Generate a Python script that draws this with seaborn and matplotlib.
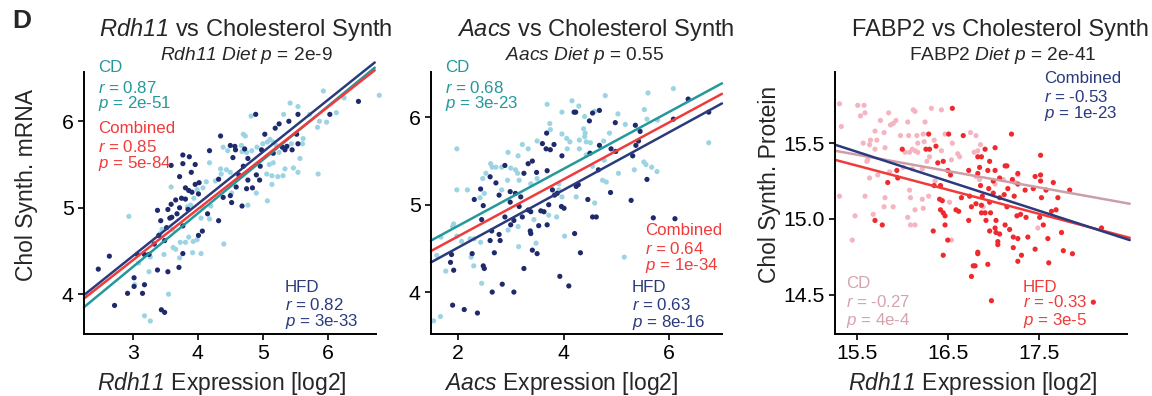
import numpy as np
import pandas as pd
import seaborn as sns
import matplotlib.pyplot as plt

# ---------------- data ----------------
# panel 1: Rdh11 mRNA vs chol synth mRNA, points as [x, y]
p1_cd = np.array([
    [4.39, 5.70], [4.46, 5.66], [4.18, 5.52], [4.35, 5.45], [4.44, 5.44], [4.50, 5.41],
    [4.36, 5.39], [4.27, 5.31], [4.13, 5.30], [3.99, 5.21], [3.59, 5.24], [4.08, 5.23],
    [3.94, 5.11], [3.89, 5.03], [3.84, 5.01], [4.07, 5.00], [4.20, 5.02], [4.05, 4.88],
    [4.18, 4.87], [2.94, 4.90], [3.45, 4.75], [3.61, 4.75], [3.42, 4.70], [3.86, 4.66],
    [3.93, 4.61], [3.99, 4.63], [3.73, 4.60], [3.81, 4.60], [3.62, 4.54], [3.48, 4.46],
    [3.66, 4.52], [3.92, 4.48], [4.05, 4.47], [4.40, 4.58], [3.27, 4.43], [3.09, 4.36],
    [3.25, 4.26], [3.03, 4.11], [3.55, 4.00], [3.18, 3.75], [3.27, 3.69], [3.72, 4.42],
    [5.93, 6.35], [6.79, 6.30], [6.25, 6.27], [5.42, 6.21], [5.54, 6.17], [5.32, 6.08],
    [4.82, 6.06], [4.70, 5.85], [4.73, 5.83], [4.67, 5.72], [4.68, 5.65], [4.75, 5.64],
    [4.83, 5.66], [4.91, 5.70], [5.00, 5.74], [5.07, 5.76], [5.11, 5.79], [5.16, 5.76],
    [5.21, 5.72], [5.44, 5.74], [5.62, 5.80], [5.61, 5.74], [5.72, 6.08], [5.87, 6.00],
    [5.84, 5.93], [5.98, 5.99], [6.13, 6.10], [5.57, 5.57], [5.25, 5.64], [5.16, 5.52],
    [5.10, 5.50], [5.06, 5.39], [5.14, 5.37], [5.23, 5.36], [5.31, 5.37], [5.34, 5.45],
    [5.47, 5.46], [5.54, 5.41], [5.85, 5.39], [5.14, 5.27], [4.90, 5.17], [4.77, 5.03],
    [5.07, 5.08], [4.52, 5.17],
])
p1_hfd = np.array([
    [4.35, 5.83], [4.50, 5.72], [4.18, 5.66], [3.77, 5.61], [3.87, 5.59], [3.96, 5.50],
    [3.77, 5.51], [3.59, 5.49], [3.90, 5.41], [3.72, 5.36], [4.02, 5.29], [3.96, 5.27],
    [3.81, 5.23], [3.86, 5.20], [3.91, 5.18], [4.01, 5.16], [3.75, 5.11], [3.81, 5.10],
    [3.66, 5.09], [3.59, 5.04], [3.54, 4.98], [3.72, 5.00], [3.85, 4.98], [3.68, 4.93],
    [3.60, 4.89], [3.57, 4.88], [3.43, 4.85], [3.38, 4.97], [3.52, 4.77], [3.40, 4.68],
    [3.33, 4.58], [3.25, 4.46], [3.18, 4.46], [3.07, 4.46], [3.49, 4.62], [3.77, 4.79],
    [4.01, 4.68], [4.07, 4.73], [4.15, 4.93], [4.32, 4.85], [4.39, 5.12], [4.32, 5.33],
    [4.50, 5.14], [2.64, 4.44], [2.47, 4.29], [3.38, 4.28], [3.54, 4.26], [3.71, 4.31],
    [3.77, 4.47], [3.02, 4.19], [3.18, 4.11], [3.02, 4.09], [2.92, 4.01], [3.15, 4.01],
    [3.44, 3.82], [3.49, 3.79], [2.72, 3.87],
    [6.47, 6.23], [6.03, 6.08], [5.54, 6.08], [5.40, 6.00], [5.25, 5.97], [5.19, 5.92],
    [4.89, 6.08], [5.03, 5.85], [5.52, 5.85], [5.54, 5.74], [5.30, 5.70], [5.34, 5.67],
    [5.37, 5.71], [5.45, 5.67], [4.98, 5.67], [4.57, 5.71], [4.58, 5.67], [4.72, 5.68],
    [4.54, 5.58], [4.77, 5.57], [4.70, 5.48], [4.96, 5.48], [4.63, 5.38], [4.95, 5.32],
    [4.77, 5.32], [4.90, 5.38], [5.16, 5.63], [4.59, 5.24], [4.75, 5.22], [4.84, 5.23],
    [4.52, 5.06], [4.68, 5.02],
])

# panel 2: Aacs mRNA vs chol synth mRNA
p2_cd = np.array([
    [3.69, 6.15], [3.97, 6.06], [4.16, 6.19], [3.74, 5.93], [3.75, 5.86], [3.50, 5.73],
    [3.97, 5.81], [4.12, 5.72], [4.07, 5.64], [4.06, 5.76], [3.22, 5.69], [3.33, 5.64],
    [3.14, 5.56], [2.95, 5.60], [1.98, 5.64], [2.62, 5.47], [2.65, 5.43], [2.72, 5.43],
    [2.83, 5.43], [3.00, 5.42], [3.09, 5.40], [3.13, 5.36], [2.53, 5.36], [2.47, 5.30],
    [2.18, 5.17], [1.98, 5.17], [2.50, 5.13], [2.42, 5.08], [2.83, 5.17], [2.94, 5.28],
    [3.16, 5.28], [3.38, 5.24], [3.50, 5.30], [3.91, 5.24], [3.97, 5.09], [3.72, 4.88],
    [3.87, 4.86], [3.91, 5.17], [3.44, 4.83], [3.14, 4.75], [2.95, 4.71], [1.90, 4.75],
    [1.92, 4.78], [1.68, 4.63], [1.98, 4.64], [2.23, 4.61], [2.31, 4.61], [2.43, 4.57],
    [2.07, 4.58], [1.60, 4.42], [1.77, 4.24], [2.25, 4.40], [2.30, 4.30], [3.48, 4.56],
    [4.02, 4.64], [2.45, 4.10], [1.67, 3.72], [1.54, 3.67], [3.15, 4.52],
    [4.79, 6.25], [5.60, 6.28], [6.08, 6.33], [4.29, 6.13], [4.59, 6.07], [5.03, 6.04],
    [5.17, 5.92], [5.53, 6.09], [5.58, 5.98], [5.78, 5.97], [4.40, 6.01], [4.38, 5.87],
    [4.41, 5.82], [4.30, 5.74], [4.43, 5.72], [4.51, 5.71], [4.76, 5.73], [4.87, 5.82],
    [4.30, 5.64], [4.43, 5.57], [4.77, 5.51], [4.55, 5.44], [5.04, 5.36], [5.34, 5.40],
    [5.52, 5.49], [5.56, 5.46], [5.77, 5.38], [5.67, 5.43], [4.74, 5.28], [4.81, 5.26],
    [4.24, 5.09], [4.59, 5.02], [6.75, 5.71], [5.15, 4.40], [4.40, 5.78],
])
p2_hfd = np.array([
    [4.20, 6.06], [3.68, 5.82], [3.60, 5.70], [3.82, 5.69], [3.75, 5.63], [3.67, 5.64],
    [3.97, 5.56], [2.89, 5.45], [3.33, 5.47], [3.41, 5.50], [3.25, 5.36], [3.49, 5.37],
    [3.69, 5.39], [2.61, 5.32], [2.72, 5.25], [2.43, 5.18], [2.31, 5.06], [2.48, 4.99],
    [2.78, 5.11], [2.99, 5.15], [3.09, 5.13], [3.19, 5.09], [2.99, 5.03], [3.16, 4.98],
    [3.33, 4.94], [3.38, 4.92], [3.57, 4.93], [3.63, 4.92], [3.72, 5.00], [3.79, 5.17],
    [3.83, 5.11], [3.88, 5.13], [3.96, 4.98], [4.01, 4.96], [2.89, 4.86], [3.06, 4.82],
    [3.22, 4.86], [3.69, 4.77], [3.53, 4.76], [2.45, 4.83], [2.64, 4.70], [2.61, 4.59],
    [2.80, 4.59], [2.78, 4.66], [3.37, 4.70], [3.38, 4.67], [3.00, 4.77], [2.69, 4.45],
    [2.27, 4.44], [1.88, 4.43], [1.86, 4.34], [1.92, 4.25], [3.41, 4.48], [3.50, 4.44],
    [2.48, 4.30], [2.50, 4.27], [3.25, 4.27], [2.84, 4.09], [2.65, 4.00], [3.06, 4.00],
    [1.90, 3.85], [2.12, 3.80], [2.37, 3.76], [3.93, 4.18], [4.10, 4.07],
    [6.36, 6.21], [6.75, 6.06], [6.08, 5.98], [5.36, 5.91], [5.45, 5.84], [5.42, 5.73],
    [5.37, 5.68], [5.31, 5.56], [4.98, 5.94], [4.90, 5.64], [4.99, 5.61], [4.68, 5.68],
    [4.50, 5.59], [4.49, 5.96], [4.55, 6.05], [4.68, 6.08], [4.23, 6.06], [4.66, 5.40],
    [4.28, 5.23], [4.24, 5.21], [5.58, 5.29], [4.89, 5.14], [5.28, 5.05], [4.46, 5.06],
    [4.55, 4.86], [4.62, 4.86], [5.70, 4.85], [6.11, 4.84], [4.32, 4.45], [4.21, 4.67],
])

# panel 3: Rdh11 expression vs chol synth protein
p3_cd = np.array([
    [15.31, 15.76], [15.51, 15.75], [15.58, 15.75], [15.59, 15.70], [15.54, 15.68],
    [15.33, 15.61], [15.85, 15.70], [15.76, 15.65], [15.93, 15.65], [15.90, 15.63],
    [15.87, 15.62], [16.06, 15.64], [16.12, 15.72], [16.14, 15.71], [16.32, 15.73],
    [16.43, 15.72], [16.25, 15.64], [15.70, 15.58], [15.80, 15.57], [15.65, 15.52],
    [15.72, 15.52], [15.57, 15.50], [15.64, 15.49], [15.98, 15.55], [16.07, 15.55],
    [16.16, 15.55], [16.23, 15.56], [16.24, 15.51], [16.17, 15.50], [16.11, 15.46],
    [16.14, 15.45], [16.17, 15.44], [16.08, 15.44], [16.03, 15.44], [15.81, 15.47],
    [15.70, 15.46], [15.62, 15.39], [15.61, 15.38], [15.73, 15.29], [15.64, 15.27],
    [15.86, 15.31], [16.01, 15.34], [16.11, 15.33], [16.22, 15.33], [16.27, 15.38],
    [16.30, 15.41], [16.43, 15.45], [16.55, 15.50], [16.61, 15.43], [16.54, 15.39],
    [16.63, 15.41], [16.75, 15.57], [16.79, 15.44], [16.47, 15.56], [16.35, 15.52],
    [15.31, 15.15], [15.59, 15.15], [15.81, 15.14], [15.90, 15.08], [15.80, 15.08],
    [16.08, 15.19], [16.09, 15.14], [16.22, 15.13], [16.29, 15.15], [16.23, 15.07],
    [16.14, 15.06], [16.06, 15.01], [16.09, 14.96], [16.14, 14.96], [15.68, 15.03],
    [15.48, 15.02], [15.45, 14.86], [16.54, 14.86], [16.52, 15.11], [16.36, 15.25],
    [16.81, 15.55], [16.86, 15.49], [16.83, 15.45], [16.81, 15.28], [16.85, 15.26],
    [17.02, 15.23], [17.11, 15.26], [17.24, 15.24], [17.27, 15.29], [16.89, 15.08],
    [17.49, 14.94],
])
p3_hfd = np.array([
    [16.55, 15.73], [16.29, 15.56], [16.51, 15.56], [16.67, 15.55], [16.37, 15.48],
    [16.26, 15.46], [16.30, 15.46], [16.00, 15.46], [16.45, 15.38], [16.39, 15.37],
    [16.50, 15.32], [16.53, 15.29], [15.94, 15.32], [15.95, 15.27], [15.84, 15.24],
    [16.35, 15.22], [16.42, 15.22], [16.41, 15.13], [16.44, 15.12], [16.42, 15.06],
    [16.45, 15.04], [16.47, 15.02], [16.74, 15.15], [16.76, 15.08], [16.81, 15.10],
    [16.59, 15.06], [16.62, 15.05], [16.65, 15.14], [16.73, 14.99], [16.73, 15.32],
    [16.83, 15.41], [16.47, 14.96], [16.34, 14.92], [16.50, 14.86], [16.45, 14.76],
    [16.83, 14.77], [16.78, 14.69], [16.76, 14.62], [15.70, 14.99], [15.78, 14.96],
    [17.20, 15.56], [17.52, 15.42], [17.02, 15.47], [16.91, 15.46], [16.87, 15.41],
    [16.96, 15.38], [17.13, 15.35], [17.15, 15.35], [17.02, 15.32], [16.94, 15.32],
    [16.85, 15.34], [16.83, 15.30], [17.07, 15.27], [17.27, 15.30], [17.46, 15.28],
    [17.52, 15.29], [17.44, 15.20], [17.52, 15.25], [17.66, 15.24], [17.84, 15.19],
    [17.71, 15.14], [17.58, 15.19], [17.53, 15.14], [17.35, 15.19], [17.27, 15.23],
    [17.21, 15.26], [17.23, 15.15], [17.16, 15.20], [17.12, 15.16], [17.00, 15.25],
    [16.95, 15.20], [16.86, 15.22], [16.88, 15.15], [17.00, 15.17], [17.07, 15.14],
    [16.96, 15.11], [16.87, 15.09], [16.91, 15.04], [16.87, 15.04], [16.97, 15.04],
    [17.15, 15.08], [17.26, 15.02], [17.30, 15.03], [17.36, 15.01], [17.51, 15.01],
    [17.55, 14.96], [17.69, 15.06], [17.64, 15.05], [16.92, 14.99], [17.03, 14.99],
    [17.02, 14.94], [16.96, 14.92], [17.13, 14.96], [17.18, 14.93], [17.03, 14.91],
    [17.07, 14.90], [17.22, 14.88], [17.38, 14.88], [17.27, 14.87], [17.60, 14.87],
    [17.75, 14.91], [18.19, 14.94], [17.05, 14.85], [17.05, 14.83], [17.22, 14.81],
    [17.46, 14.80], [17.77, 14.79], [17.87, 14.77], [17.31, 14.76], [17.27, 14.72],
    [16.83, 14.78], [16.94, 14.70], [17.61, 14.71], [16.98, 14.46], [18.10, 14.45],
    [16.80, 14.69],
])

# fitted lines (x ends, then y ends per group)
p1_line_x = [2.25, 6.72]
p1_cd_line = [3.85, 6.62]
p1_hfd_line = [3.99, 6.68]
p1_all_line = [3.95, 6.59]

p2_line_x = [1.49, 7.0]
p2_cd_line = [4.59, 6.39]
p2_hfd_line = [4.34, 6.16]
p2_all_line = [4.47, 6.27]

p3_line_x = [15.26, 18.5]
p3_cd_line = [15.45, 15.10]
p3_hfd_line = [15.39, 14.875]
p3_all_line = [15.49, 14.86]

# ---------------- style ----------------
sns.set_theme(style="ticks")
plt.rcParams["font.family"] = ["Liberation Sans", "DejaVu Sans"]
plt.rcParams["mathtext.fontset"] = "custom"
plt.rcParams["mathtext.rm"] = "Liberation Sans"
plt.rcParams["mathtext.it"] = "Liberation Sans:italic"
# \mathsf is used for fully italic words (digits included)
plt.rcParams["mathtext.sf"] = "Liberation Sans:italic"
plt.rcParams["axes.unicode_minus"] = False

light_blue = "#9dd4e4"
navy_pt = "#1f2a6c"
teal = "#24989b"
navy = "#2b3a7d"
red = "#f03b3b"
pink_pt = "#f6b4c0"
red_pt = "#ee2a2e"
mauve = "#cc9ea8"
mauve_txt = "#d5a3ab"

TITLE, SUB, ANN, LAB, TICK = 17, 13.8, 12.2, 16.5, 15.3

fig = plt.figure(figsize=(11.52, 3.96), dpi=100)
ax1 = fig.add_axes([0.0729, 0.1566, 0.2535, 0.6616])
ax2 = fig.add_axes([0.3741, 0.1566, 0.2526, 0.6616])
ax3 = fig.add_axes([0.7248, 0.1566, 0.2535, 0.6616])


def scatter(ax, cd, hfd, c_cd, c_hfd):
    df = pd.DataFrame({
        "x": np.r_[cd[:, 0], hfd[:, 0]],
        "y": np.r_[cd[:, 1], hfd[:, 1]],
        "diet": ["CD"] * len(cd) + ["HFD"] * len(hfd),
    })
    sns.scatterplot(data=df, x="x", y="y", hue="diet", palette={"CD": c_cd, "HFD": c_hfd},
                    s=14, linewidth=0, legend=False, ax=ax, clip_on=False)


def style(ax, xlim, ylim, xticks, yticks, xlabel, ylabel, ylab_x=-0.158):
    ax.set_xlim(xlim)
    ax.set_ylim(ylim)
    ax.set_xticks(xticks)
    ax.set_yticks(yticks)
    sns.despine(ax=ax)
    for s in ["left", "bottom"]:
        ax.spines[s].set_linewidth(1.4)
        ax.spines[s].set_color("black")
    ax.tick_params(direction="out", length=4.5, width=1.2, labelsize=TICK, colors="black", pad=3)
    ax.set_xlabel(xlabel, fontsize=LAB)
    ax.set_ylabel(ylabel, fontsize=LAB)
    ax.xaxis.set_label_coords(0.473, -0.137)
    ax.yaxis.set_label_coords(ylab_x, 0.57)


def block(ax, x, ys, lines, color):
    for y, t in zip(ys, lines):
        ax.text(x, y, t, transform=ax.transAxes, color=color, fontsize=ANN, va="baseline", ha="left")


def titles(ax, xt, xs, title, sub):
    ax.text(xt, 1.137, title, transform=ax.transAxes, ha="center", va="baseline", fontsize=TITLE)
    ax.text(xs, 1.046, sub, transform=ax.transAxes, ha="center", va="baseline", fontsize=SUB)


# ---- panel 1 ----
scatter(ax1, p1_cd, p1_hfd, light_blue, navy_pt)
ax1.plot(p1_line_x, p1_cd_line, color=teal, lw=1.8, clip_on=False)
ax1.plot(p1_line_x, p1_hfd_line, color=navy, lw=1.8, clip_on=False)
ax1.plot(p1_line_x, p1_all_line, color=red, lw=1.8, clip_on=False)
style(ax1, (2.25, 6.74), (3.54, 6.57), [3, 4, 5, 6], [4, 5, 6],
      r"$\mathsf{Rdh11}$ Expression [log2]", "Chol Synth. mRNA")
titles(ax1, 0.555, 0.555, r"$\mathsf{Rdh11}$ vs Cholesterol Synth", r"$\mathsf{Rdh11\ Diet\ p}$ = 2e-9")
block(ax1, 0.048, [1.000, 0.920, 0.863], ["CD", "$r$ = 0.87", "$p$ = 2e-51"], teal)
block(ax1, 0.048, [0.767, 0.695, 0.634], ["Combined", "$r$ = 0.85", "$p$ = 5e-84"], red)
block(ax1, 0.688, [0.160, 0.092, 0.031], ["HFD", "$r$ = 0.82", "$p$ = 3e-33"], navy)

# ---- panel 2 ----
scatter(ax2, p2_cd, p2_hfd, light_blue, navy_pt)
ax2.plot(p2_line_x, p2_cd_line, color=teal, lw=1.8, clip_on=False)
ax2.plot(p2_line_x, p2_hfd_line, color=navy, lw=1.8, clip_on=False)
ax2.plot(p2_line_x, p2_all_line, color=red, lw=1.8, clip_on=False)
style(ax2, (1.49, 7.0), (3.52, 6.52), [2, 4, 6], [4, 5, 6],
      r"$\mathsf{Aacs}$ Expression [log2]", "")
ax2.xaxis.set_label_coords(0.447, -0.137)
titles(ax2, 0.567, 0.526, r"$\mathsf{Aacs}$ vs Cholesterol Synth", r"$\mathsf{Aacs\ Diet\ p}$ = 0.55")
block(ax2, 0.048, [1.000, 0.920, 0.863], ["CD", "$r$ = 0.68", "$p$ = 3e-23"], teal)
block(ax2, 0.735, [0.378, 0.305, 0.244], ["Combined", "$r$ = 0.64", "$p$ = 1e-34"], red)
block(ax2, 0.691, [0.160, 0.092, 0.027], ["HFD", "$r$ = 0.63", "$p$ = 8e-16"], navy)

# ---- panel 3 ----
scatter(ax3, p3_cd, p3_hfd, pink_pt, red_pt)
ax3.plot(p3_line_x, p3_cd_line, color=mauve, lw=1.8, clip_on=False)
ax3.plot(p3_line_x, p3_hfd_line, color=red, lw=1.8, clip_on=False)
ax3.plot(p3_line_x, p3_all_line, color=navy, lw=1.8, clip_on=False)
style(ax3, (15.26, 18.47), (14.24, 15.97), [15.5, 16.5, 17.5], [14.5, 15.0, 15.5],
      r"$\mathsf{Rdh11}$ Expression [log2]", "Chol Synth. Protein", ylab_x=-0.185)
titles(ax3, 0.568, 0.575, "FABP2 vs Cholesterol Synth", r"FABP2 $\mathsf{Diet\ p}$ = 2e-41")
block(ax3, 0.716, [0.958, 0.885, 0.824], ["Combined", "$r$ = -0.53", "$p$ = 1e-23"], navy)
block(ax3, 0.038, [0.176, 0.103, 0.034], ["CD", "$r$ = -0.27", "$p$ = 4e-4"], mauve_txt)
block(ax3, 0.644, [0.160, 0.103, 0.034], ["HFD", "$r$ = -0.33", "$p$ = 3e-5"], red)

fig.text(0.019, 0.948, "D", fontsize=19, fontweight="bold", ha="center", va="center")

fig.savefig("out.png", dpi=100)
